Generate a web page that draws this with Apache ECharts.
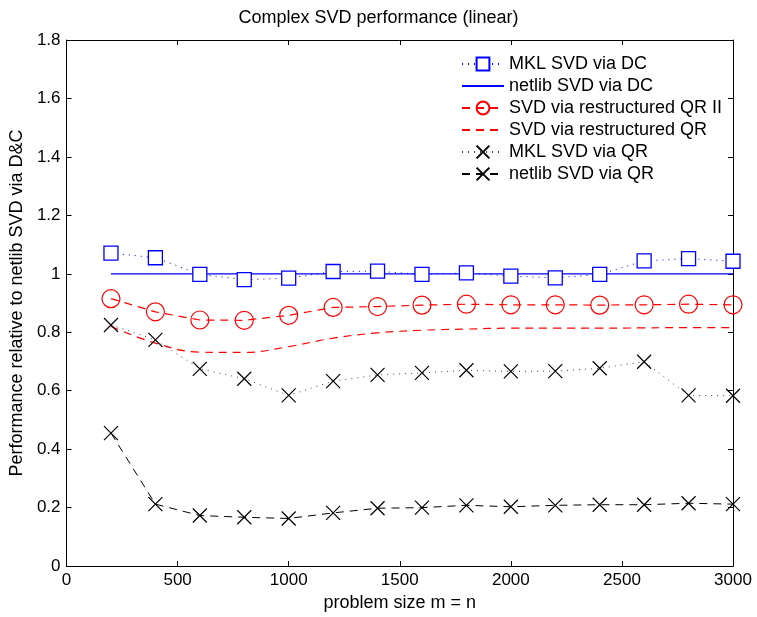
<!DOCTYPE html>
<html>
<head>
<meta charset="utf-8">
<script src="https://cdn.jsdelivr.net/npm/echarts@6/dist/echarts.min.js"></script>
<style>
  html, body { margin: 0; padding: 0; background: #fff; }
  #chart { width: 757px; height: 617px; }
</style>
</head>
<body>
<div id="chart"></div>
<script>
// problem sizes m = n
var sizes = [200, 400, 600, 800, 1000, 1200, 1400, 1600, 1800, 2000, 2200, 2400, 2600, 2800, 3000];

var mklDC = [1.071, 1.055, 0.998, 0.980, 0.985, 1.008, 1.009, 0.998, 1.003, 0.992, 0.986, 0.998, 1.044, 1.052, 1.043];
var netlibDC = [1, 1, 1, 1, 1, 1, 1, 1, 1, 1, 1, 1, 1, 1, 1];
var restructQR2 = [0.915, 0.870, 0.842, 0.841, 0.858, 0.885, 0.888, 0.893, 0.896, 0.894, 0.894, 0.893, 0.894, 0.896, 0.894];
var restructQR = [0.82, 0.763, 0.732, 0.731, 0.751, 0.78, 0.798, 0.807, 0.811, 0.814, 0.814, 0.814, 0.815, 0.816, 0.816];
var mklQR = [0.825, 0.774, 0.675, 0.641, 0.584, 0.633, 0.654, 0.661, 0.670, 0.666, 0.667, 0.677, 0.699, 0.584, 0.583];
var netlibQR = [0.455, 0.212, 0.173, 0.167, 0.163, 0.182, 0.198, 0.200, 0.208, 0.203, 0.208, 0.210, 0.210, 0.215, 0.212];

var font = 'Liberation Sans, Arial, sans-serif';
var crossPath = 'path://M0,0L10,10M10,0L0,10';
var noMark = 'path://M0,0L10,10';   // zero-area path, invisible without a border

function pairs(ys) {
    return sizes.map(function (x, i) { return [x, ys[i]]; });
}

var myChart = echarts.init(document.getElementById('chart'), null, { renderer: 'canvas' });

function axisCommon() {
    return {
        axisLine: { show: true, onZero: false, lineStyle: { color: '#000', width: 1 } },
        axisTick: { show: true, inside: true, length: 5, lineStyle: { color: '#000' } },
        splitLine: { show: false }
    };
}

var tickFont = { fontFamily: font, fontSize: 17, color: '#000', margin: 6,
    formatter: function (v) { return String(+v.toFixed(1)); } };

var option = {
    backgroundColor: '#fff',
    animation: false,
    title: {
        text: 'Complex SVD performance (linear)',
        left: 'center',
        top: 4,
        textStyle: { fontFamily: font, fontSize: 18, fontWeight: 'normal', color: '#000' }
    },
    legend: {
        orient: 'vertical',
        left: 456,
        top: 50,
        itemWidth: 42,
        itemHeight: 16,
        itemGap: 4,
        textStyle: { fontFamily: font, fontSize: 18, lineHeight: 18, color: '#000' },
        data: ['MKL SVD via DC', 'netlib SVD via DC', 'SVD via restructured QR II',
               'SVD via restructured QR', 'MKL SVD via QR', 'netlib SVD via QR']
    },
    grid: { left: 65, right: 24, top: 40, bottom: 47 },
    xAxis: [
        Object.assign({
            type: 'value', min: 0, max: 3000, interval: 500,
            name: 'problem size m = n', nameLocation: 'middle', nameGap: 26,
            nameTextStyle: { fontFamily: font, fontSize: 18, color: '#000' },
            axisLabel: tickFont
        }, axisCommon()),
        Object.assign({
            type: 'value', min: 0, max: 3000, interval: 500, position: 'top',
            axisLabel: { show: false }
        }, axisCommon())
    ],
    yAxis: [
        Object.assign({
            type: 'value', min: 0, max: 1.8, interval: 0.2,
            name: 'Performance relative to netlib SVD via D&C', nameLocation: 'middle', nameGap: 36,
            nameTextStyle: { fontFamily: font, fontSize: 18, color: '#000' },
            axisLabel: tickFont
        }, axisCommon()),
        Object.assign({
            type: 'value', min: 0, max: 1.8, interval: 0.2, position: 'right',
            axisLabel: { show: false }
        }, axisCommon())
    ],
    series: [
        {
            name: 'MKL SVD via DC', type: 'line', data: pairs(mklDC),
            symbol: 'rect', symbolSize: 14,
            itemStyle: { color: '#fff', borderColor: '#0000ff', borderWidth: 1.3 },
            lineStyle: { color: '#0000ff', width: 1, type: [1, 5] },
            color: '#0000ff'
        },
        {
            name: 'netlib SVD via DC', type: 'line', data: pairs(netlibDC),
            symbol: noMark, showSymbol: false,
            itemStyle: { color: 'rgba(0,0,0,0)', borderWidth: 0 },
            lineStyle: { color: '#0000ff', width: 1.2, type: 'solid' },
            color: '#0000ff'
        },
        {
            name: 'SVD via restructured QR II', type: 'line', data: pairs(restructQR2),
            symbol: 'circle', symbolSize: 18,
            itemStyle: { color: 'rgba(255,255,255,0)', borderColor: '#ff0000', borderWidth: 1.2 },
            lineStyle: { color: '#ff0000', width: 1.2, type: [8, 6] },
            color: '#ff0000'
        },
        {
            name: 'SVD via restructured QR', type: 'line', data: pairs(restructQR),
            symbol: noMark, showSymbol: false, smooth: 0.4,
            itemStyle: { color: 'rgba(0,0,0,0)', borderWidth: 0 },
            lineStyle: { color: '#ff0000', width: 1.2, type: [8, 6] },
            color: '#ff0000'
        },
        {
            name: 'MKL SVD via QR', type: 'line', data: pairs(mklQR),
            symbol: crossPath, symbolSize: 14,
            itemStyle: { color: 'none', borderColor: '#000', borderWidth: 1.2 },
            lineStyle: { color: '#444', width: 1, type: [1, 5] },
            color: '#000'
        },
        {
            name: 'netlib SVD via QR', type: 'line', data: pairs(netlibQR),
            symbol: crossPath, symbolSize: 14,
            itemStyle: { color: 'none', borderColor: '#000', borderWidth: 1.2 },
            lineStyle: { color: '#000', width: 1, type: [8, 6] },
            color: '#000'
        }
    ]
};

myChart.setOption(option);
window.addEventListener('resize', myChart.resize);
</script>
</body>
</html>
